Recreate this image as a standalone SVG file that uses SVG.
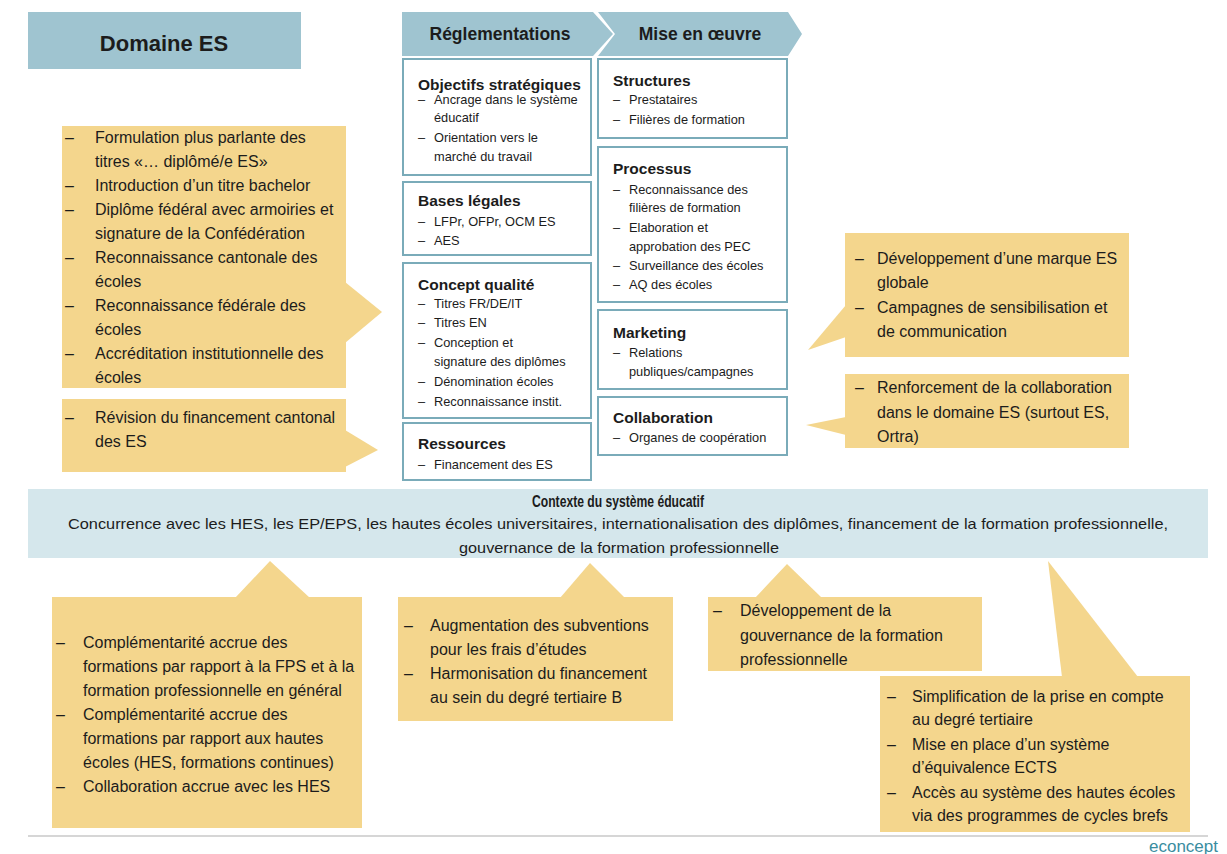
<svg xmlns="http://www.w3.org/2000/svg" width="1227" height="854" viewBox="0 0 1227 854">
<style>
.hdr{fill:#9FC4D0}
.box{fill:#ffffff;stroke:#7AABB9;stroke-width:2}
.call{fill:#F4D68D}
.ctx{fill:#D5E7EC}
text{font-family:"Liberation Sans",Arial,sans-serif;fill:#1c1c1c}
.t1{font-size:22px;font-weight:bold}
.t2{font-size:17.5px;font-weight:bold}
.bh{font-size:15.5px;font-weight:bold}
.bi{font-size:12.8px}
.c{font-size:16px}
.ct{font-size:16px;font-weight:bold}
.cl{font-size:15px}
.logo{font-size:17px;fill:#3A8D9F}
</style>
<rect width="1227" height="854" fill="#ffffff"/>

<g id="domaine-es">
<rect class="hdr" x="28" y="12" width="273" height="57"/>
<text class="t1" x="164" y="51" text-anchor="middle">Domaine ES</text>
</g>

<g id="reglementations">
<polygon class="hdr" points="402,12 593,12 613,34 593,56 402,56"/>
<text class="t2" x="500" y="40" text-anchor="middle">Réglementations</text>
</g>
<g id="mise-en-oeuvre">
<polygon class="hdr" points="598,12 788,12 802,34 788,56 598,56 615,34"/>
<text class="t2" x="700" y="40" text-anchor="middle">Mise en œuvre</text>
</g>

<g id="objectifs">
<rect class="box" x="403" y="59" width="188" height="116"/>
<text class="bh" x="418" y="90">Objectifs stratégiques</text>
<text class="bi" x="418" y="104">–</text><text class="bi" x="434" y="104">Ancrage dans le système</text>
<text class="bi" x="434" y="122">éducatif</text>
<text class="bi" x="418" y="142">–</text><text class="bi" x="434" y="142">Orientation vers le</text>
<text class="bi" x="434" y="161">marché du travail</text>
</g>
<g id="bases-legales">
<rect class="box" x="403" y="182" width="188" height="73"/>
<text class="bh" x="418" y="206">Bases légales</text>
<text class="bi" x="418" y="226">–</text><text class="bi" x="434" y="226">LFPr, OFPr, OCM ES</text>
<text class="bi" x="418" y="245">–</text><text class="bi" x="434" y="245">AES</text>
</g>
<g id="concept-qualite">
<rect class="box" x="403" y="263" width="188" height="155"/>
<text class="bh" x="418" y="290">Concept qualité</text>
<text class="bi" x="418" y="308">–</text><text class="bi" x="434" y="308">Titres FR/DE/IT</text>
<text class="bi" x="418" y="327">–</text><text class="bi" x="434" y="327">Titres EN</text>
<text class="bi" x="418" y="347">–</text><text class="bi" x="434" y="347">Conception et</text>
<text class="bi" x="434" y="366">signature des diplômes</text>
<text class="bi" x="418" y="386">–</text><text class="bi" x="434" y="386">Dénomination écoles</text>
<text class="bi" x="418" y="406">–</text><text class="bi" x="434" y="406">Reconnaissance instit.</text>
</g>
<g id="ressources">
<rect class="box" x="403" y="423" width="188" height="57"/>
<text class="bh" x="418" y="449">Ressources</text>
<text class="bi" x="418" y="469">–</text><text class="bi" x="434" y="469">Financement des ES</text>
</g>

<g id="structures">
<rect class="box" x="598" y="59" width="189" height="79"/>
<text class="bh" x="613" y="86">Structures</text>
<text class="bi" x="613" y="104">–</text><text class="bi" x="629" y="104">Prestataires</text>
<text class="bi" x="613" y="124">–</text><text class="bi" x="629" y="124">Filières de formation</text>
</g>
<g id="processus">
<rect class="box" x="598" y="147" width="189" height="155"/>
<text class="bh" x="613" y="174">Processus</text>
<text class="bi" x="613" y="194">–</text><text class="bi" x="629" y="194">Reconnaissance des</text>
<text class="bi" x="629" y="212">filières de formation</text>
<text class="bi" x="613" y="232">–</text><text class="bi" x="629" y="232">Elaboration et</text>
<text class="bi" x="629" y="251">approbation des PEC</text>
<text class="bi" x="613" y="270">–</text><text class="bi" x="629" y="270">Surveillance des écoles</text>
<text class="bi" x="613" y="289">–</text><text class="bi" x="629" y="289">AQ des écoles</text>
</g>
<g id="marketing">
<rect class="box" x="598" y="310" width="189" height="79"/>
<text class="bh" x="613" y="338">Marketing</text>
<text class="bi" x="613" y="357">–</text><text class="bi" x="629" y="357">Relations</text>
<text class="bi" x="629" y="376">publiques/campagnes</text>
</g>
<g id="collaboration">
<rect class="box" x="598" y="397" width="189" height="58"/>
<text class="bh" x="613" y="423">Collaboration</text>
<text class="bi" x="613" y="442">–</text><text class="bi" x="629" y="442">Organes de coopération</text>
</g>

<g id="contexte">
<rect class="ctx" x="28" y="489" width="1180" height="69"/>
<text class="ct" x="618" y="507" text-anchor="middle" textLength="172" lengthAdjust="spacingAndGlyphs">Contexte du système éducatif</text>
<text class="cl" x="618" y="529" text-anchor="middle" textLength="1100" lengthAdjust="spacingAndGlyphs">Concurrence avec les HES, les EP/EPS, les hautes écoles universitaires, internationalisation des diplômes, financement de la formation professionnelle,</text>
<text class="cl" x="619" y="553" text-anchor="middle" textLength="320" lengthAdjust="spacingAndGlyphs">gouvernance de la formation professionnelle</text>
</g>

<g id="connectors">
<polygon class="call" points="345,282 382,312 345,343"/>
<polygon class="call" points="345,430 378,450 345,467"/>
<polygon class="call" points="846,305 808,350 846,337"/>
<polygon class="call" points="846,417 806,425 846,435"/>
<polygon class="call" points="235,598 270,561 310,598"/>
<polygon class="call" points="560,598 590,563 625,598"/>
<polygon class="call" points="755,598 787,564 822,598"/>
<polygon class="call" points="1062,677 1048,561 1138,677"/>
</g>

<g id="callout-titres">
<rect class="call" x="62" y="126" width="284" height="262"/>
<text class="c" x="65" y="143">–</text><text class="c" x="95" y="143">Formulation plus parlante des</text>
<text class="c" x="95" y="167">titres «… diplômé/e ES»</text>
<text class="c" x="65" y="191">–</text><text class="c" x="95" y="191">Introduction d’un titre bachelor</text>
<text class="c" x="65" y="215">–</text><text class="c" x="95" y="215">Diplôme fédéral avec armoiries et</text>
<text class="c" x="95" y="239">signature de la Confédération</text>
<text class="c" x="65" y="263">–</text><text class="c" x="95" y="263">Reconnaissance cantonale des</text>
<text class="c" x="95" y="287">écoles</text>
<text class="c" x="65" y="311">–</text><text class="c" x="95" y="311">Reconnaissance fédérale des</text>
<text class="c" x="95" y="335">écoles</text>
<text class="c" x="65" y="359">–</text><text class="c" x="95" y="359">Accréditation institutionnelle des</text>
<text class="c" x="95" y="383">écoles</text>
</g>
<g id="callout-financement">
<rect class="call" x="62" y="399" width="284" height="73"/>
<text class="c" x="65" y="423">–</text><text class="c" x="95" y="423">Révision du financement cantonal</text>
<text class="c" x="95" y="447">des ES</text>
</g>
<g id="callout-marque">
<rect class="call" x="845" y="233" width="284" height="124"/>
<text class="c" x="855" y="264">–</text><text class="c" x="877" y="264">Développement d’une marque ES</text>
<text class="c" x="877" y="288">globale</text>
<text class="c" x="855" y="313">–</text><text class="c" x="877" y="313">Campagnes de sensibilisation et</text>
<text class="c" x="877" y="337">de communication</text>
</g>
<g id="callout-collaboration">
<rect class="call" x="845" y="374" width="284" height="74"/>
<text class="c" x="855" y="393">–</text><text class="c" x="877" y="393">Renforcement de la collaboration</text>
<text class="c" x="877" y="418">dans le domaine ES (surtout ES,</text>
<text class="c" x="877" y="442">Ortra)</text>
</g>
<g id="callout-complementarite">
<rect class="call" x="52" y="597" width="310" height="231"/>
<text class="c" x="56" y="648">–</text><text class="c" x="83" y="648">Complémentarité accrue des</text>
<text class="c" x="83" y="672">formations par rapport à la FPS et à la</text>
<text class="c" x="83" y="696">formation professionnelle en général</text>
<text class="c" x="56" y="720">–</text><text class="c" x="83" y="720">Complémentarité accrue des</text>
<text class="c" x="83" y="744">formations par rapport aux hautes</text>
<text class="c" x="83" y="768">écoles (HES, formations continues)</text>
<text class="c" x="56" y="792">–</text><text class="c" x="83" y="792">Collaboration accrue avec les HES</text>
</g>
<g id="callout-subventions">
<rect class="call" x="398" y="597" width="275" height="124"/>
<text class="c" x="404" y="631">–</text><text class="c" x="430" y="631">Augmentation des subventions</text>
<text class="c" x="430" y="655">pour les frais d’études</text>
<text class="c" x="404" y="679">–</text><text class="c" x="430" y="679">Harmonisation du financement</text>
<text class="c" x="430" y="703">au sein du degré tertiaire B</text>
</g>
<g id="callout-gouvernance">
<rect class="call" x="708" y="597" width="274" height="74"/>
<text class="c" x="713" y="616">–</text><text class="c" x="740" y="616">Développement de la</text>
<text class="c" x="740" y="641">gouvernance de la formation</text>
<text class="c" x="740" y="665">professionnelle</text>
</g>
<g id="callout-ects">
<rect class="call" x="880" y="676" width="310" height="156"/>
<text class="c" x="887" y="702">–</text><text class="c" x="912" y="702">Simplification de la prise en compte</text>
<text class="c" x="912" y="725">au degré tertiaire</text>
<text class="c" x="887" y="750">–</text><text class="c" x="912" y="750">Mise en place d’un système</text>
<text class="c" x="912" y="773">d’équivalence ECTS</text>
<text class="c" x="887" y="798">–</text><text class="c" x="912" y="798">Accès au système des hautes écoles</text>
<text class="c" x="912" y="821">via des programmes de cycles brefs</text>
</g>

<g id="footer">
<line x1="28" y1="836" x2="1208" y2="836" stroke="#C8C8C8" stroke-width="1.5"/>
<text class="logo" x="1218" y="852" text-anchor="end">econcept</text>
</g>
</svg>
